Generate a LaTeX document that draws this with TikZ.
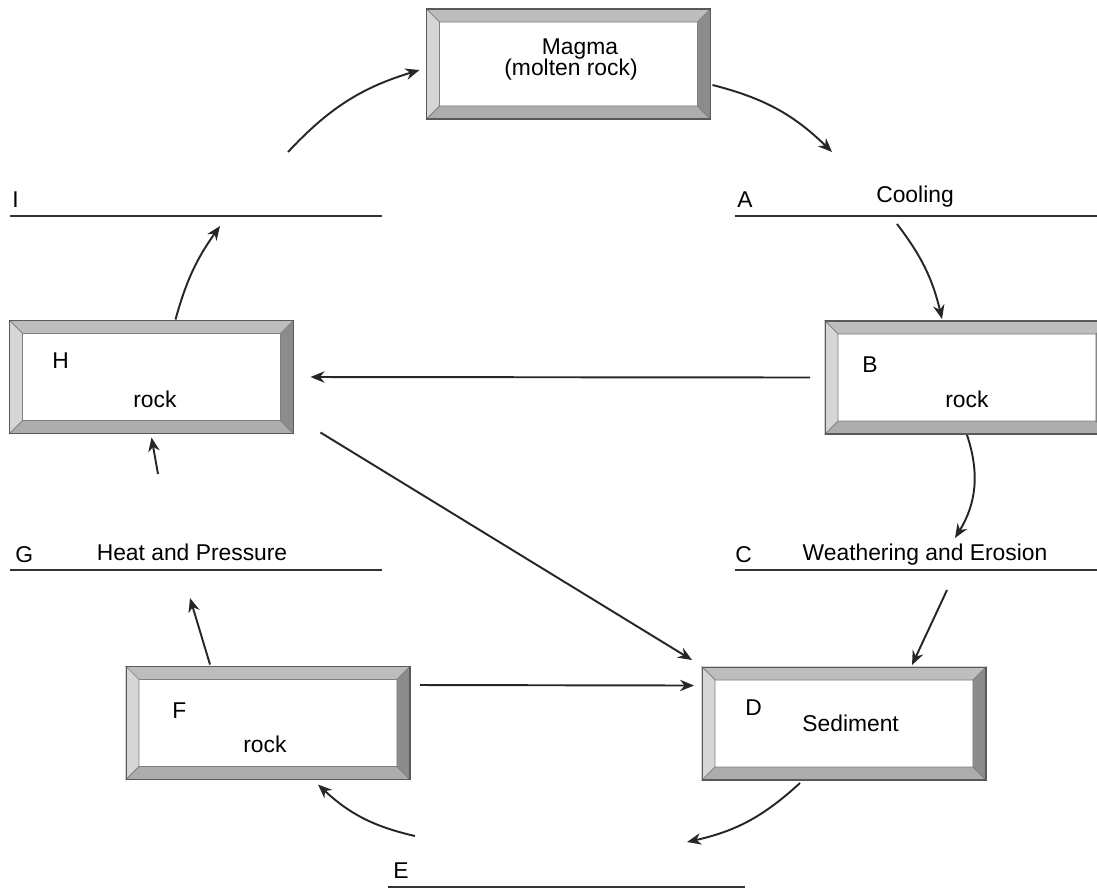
\documentclass[tikz,border=0pt]{standalone}
\usepackage{fontspec}
\setmainfont{Liberation Sans}
\usepackage{xcolor}
\definecolor{bevelleft}{gray}{0.84}
\definecolor{beveltop}{gray}{0.74}
\definecolor{bevelbottom}{gray}{0.68}
\definecolor{bevelright}{gray}{0.55}
\usepackage{tikz}
\usetikzlibrary{arrows.meta, calc}

\begin{document}
\begin{tikzpicture}[
  x=0.02cm, y=-0.02cm,
  rockbox/.style={rectangle, fill=white, minimum width=5.68cm, minimum height=2.26cm, outer sep=0pt, inner sep=0pt},
  lbl/.style={font=\fontsize{13}{15}\selectfont, inner sep=0pt},
  blank/.style={line width=1.2pt, color=black!80},
  arrow/.style={-{Stealth[length=8pt, width=6.5pt]}, line width=1.1pt, color=black!85}
]
\useasboundingbox (0,0) rectangle (1097,890);
\clip (0,0) rectangle (1097,890);
% Boxes
\node[rockbox, minimum height=2.2cm] (magma) at (568.5,64) {};
\node[rockbox] (B) at (967,377.5) {};
\node[rockbox] (H) at (151.5,377) {};
\node[rockbox] (F) at (268,723) {};
\node[rockbox] (D) at (844,723.5) {};
\foreach \n in {magma,B,H,F,D} {
  \filldraw[fill=beveltop, draw=black!50, line width=0.4pt] (\n.north west) -- (\n.north east) -- ($(\n.north east)+(-13,13)$) -- ($(\n.north west)+(13,13)$) -- cycle;
  \filldraw[fill=bevelleft, draw=black!50, line width=0.4pt] (\n.north west) -- ($(\n.north west)+(13,13)$) -- ($(\n.south west)+(13,-13)$) -- (\n.south west) -- cycle;
  \filldraw[fill=bevelbottom, draw=black!50, line width=0.4pt] (\n.south west) -- ($(\n.south west)+(13,-13)$) -- ($(\n.south east)+(-13,-13)$) -- (\n.south east) -- cycle;
  \filldraw[fill=bevelright, draw=black!50, line width=0.4pt] (\n.south east) -- ($(\n.south east)+(-13,-13)$) -- ($(\n.north east)+(-13,13)$) -- (\n.north east) -- cycle;
  \draw[black!65, line width=0.6pt] (\n.north west) rectangle (\n.south east);
}
% Box texts
\node[lbl, anchor=base] (magmaname) at (580,54) {Magma};
\node[lbl, anchor=base] (magmanote) at (571,75) {(molten rock)};
\node[lbl, anchor=base west] (Bletter) at (862,372) {B};
\node[lbl, anchor=base west] (Brock) at (945,407) {rock};
\node[lbl, anchor=base west] (Hletter) at (52,368) {H};
\node[lbl, anchor=base west] (Hrock) at (133,407) {rock};
\node[lbl, anchor=base west] (Fletter) at (172,718) {F};
\node[lbl, anchor=base west] (Frock) at (243,752) {rock};
\node[lbl, anchor=base west] (Dletter) at (745,715) {D};
\node[lbl, anchor=base west] (Dsediment) at (802,731) {Sediment};
% Blank lines
\draw[blank] (10,216) -- (382,216);
\draw[blank] (735,216) -- (1097,216);
\draw[blank] (10,570) -- (382,570);
\draw[blank] (735,570) -- (1097,570);
\draw[blank] (388,887) -- (745,887);
\node[lbl, anchor=base west] (Ilabel) at (12,207) {I};
\node[lbl, anchor=base west] (Alabel) at (737,207) {A};
\node[lbl, anchor=base] (cooling) at (915,202) {Cooling};
\node[lbl, anchor=base west] (Glabel) at (15,562) {G};
\node[lbl, anchor=base] (heat) at (192,560) {Heat and Pressure};
\node[lbl, anchor=base west] (Clabel) at (735,562) {C};
\node[lbl, anchor=base] (weathering) at (925,560) {Weathering and Erosion};
\node[lbl, anchor=base west] (Elabel) at (393,878) {E};
% Arrow ends at the blanks
\coordinate (Iup) at (288,152);
\coordinate (Iin) at (220,226);
\coordinate (Adown) at (832,152);
\coordinate (Aout) at (897,224);
\coordinate (Cin) at (955,538);
\coordinate (Cout) at (947,590);
\coordinate (Gin) at (190,598);
\coordinate (Gout) at (158,474);
\coordinate (Ein) at (687,842);
\coordinate (Eout) at (415,836);
% Arrows
\draw[arrow] (Iup) to[bend left=15] ([shift={(-7,6)}]magma.west);
\draw[arrow] ([shift={(2,21)}]magma.east) to[bend left=15] (Adown);
\draw[arrow] (Aout) to[bend left=12] ([shift={(-25,-2)}]B.north);
\draw[arrow] ([shift={(0,1)}]B.south) to[bend left=25] (Cin);
\draw[arrow] (Cout) -- ([shift={(68,-2)}]D.north);
\draw[arrow] ([shift={(-15,0)}]B.west) -- ([shift={(17,0)}]H.east);
\draw[arrow] ([shift={(27,-1)}]H.south east) -- ([shift={(-10,-7)}]D.north west);
\draw[arrow] ([shift={(10,-38)}]F.east) -- ([shift={(-8,-38)}]D.west);
\draw[arrow] ([shift={(-44,3)}]D.south) to[bend left=15] (Ein);
\draw[arrow] (Eout) to[bend left=15] ([shift={(50,5)}]F.south);
\draw[arrow] ([shift={(-58,-2)}]F.north) -- (Gin);
\draw[arrow] (Gout) -- ([shift={(0,4)}]H.south);
\draw[arrow] ([shift={(24,-1)}]H.north) to[bend left=10] (Iin);
\end{tikzpicture}
\end{document}
